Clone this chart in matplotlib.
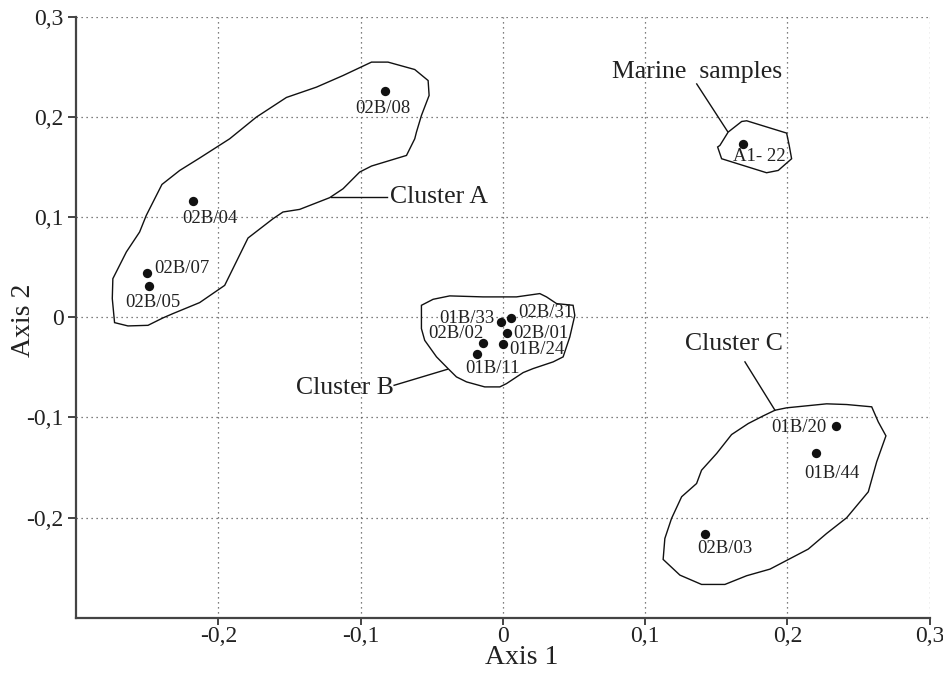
import numpy as np
from matplotlib import pyplot as plt
from matplotlib.ticker import FixedLocator, FuncFormatter

plt.rcParams['font.family'] = ['Liberation Serif', 'DejaVu Serif']

# sample scores on the first two axes
names = ['02B/08', '02B/04', '02B/07', '02B/05', 'A1- 22',
         '02B/31', '01B/33', '02B/01', '01B/24', '02B/02', '01B/11',
         '01B/20', '01B/44', '02B/03']
axis1 = [-0.083, -0.218, -0.250, -0.249, 0.169,
         0.006, -0.001, 0.003, 0.000, -0.014, -0.018,
         0.234, 0.220, 0.142]
axis2 = [0.226, 0.116, 0.044, 0.031, 0.173,
         -0.001, -0.005, -0.016, -0.027, -0.026, -0.037,
         -0.109, -0.136, -0.216]

# hand drawn envelopes round the groups
hull_a_x = [-0.2729, -0.2745, -0.2741, -0.2646, -0.2553, -0.2506, -0.2396, -0.2271, -0.2131,
            -0.1920, -0.1732, -0.1521, -0.1310, -0.1123, -0.0923, -0.0807, -0.0619, -0.0525,
            -0.0518, -0.0572, -0.0607, -0.0619, -0.0677, -0.0923, -0.1006, -0.1123, -0.1217,
            -0.1428, -0.1545, -0.1615, -0.1791, -0.1955, -0.2131, -0.2319, -0.2389, -0.2494,
            -0.2635]
hull_a_y = [-0.0053, 0.0187, 0.0386, 0.0653, 0.0852, 0.1018, 0.1327, 0.1467, 0.1591,
            0.1783, 0.2000, 0.2196, 0.2299, 0.2415, 0.2549, 0.2549, 0.2475, 0.2365,
            0.2216, 0.2016, 0.1850, 0.1783, 0.1617, 0.1511, 0.1451, 0.1284, 0.1195,
            0.1078, 0.1052, 0.0985, 0.0792, 0.0319, 0.0147, 0.0037, -0.0006, -0.0080,
            -0.0086]
hull_b_x = [-0.0572, -0.0490, -0.0373, -0.0139, 0.0096, 0.0260, 0.0307, 0.0378, 0.0494,
            0.0506, 0.0471, 0.0424, 0.0354, 0.0213, 0.0143, 0.0026, -0.0021, -0.0127,
            -0.0255, -0.0326, -0.0385, -0.0466, -0.0549, -0.0572]
hull_b_y = [0.0120, 0.0180, 0.0214, 0.0204, 0.0204, 0.0237, 0.0204, 0.0137, 0.0120,
            0.0020, -0.0196, -0.0395, -0.0445, -0.0512, -0.0552, -0.0662, -0.0695, -0.0695,
            -0.0645, -0.0595, -0.0512, -0.0395, -0.0230, -0.0113]
hull_c_x = [0.1913, 0.1995, 0.2276, 0.2417, 0.2593, 0.2639, 0.2693, 0.2628, 0.2569,
            0.2417, 0.2276, 0.2147, 0.1878, 0.1714, 0.1561, 0.1397, 0.1245, 0.1127,
            0.1139, 0.1186, 0.1257, 0.1362, 0.1397, 0.1503, 0.1608, 0.1725, 0.1831]
hull_c_y = [-0.0928, -0.0904, -0.0864, -0.0871, -0.0894, -0.1044, -0.1184, -0.1443, -0.1743,
            -0.2002, -0.2159, -0.2315, -0.2515, -0.2581, -0.2668, -0.2668, -0.2575, -0.2418,
            -0.2209, -0.2009, -0.1792, -0.1660, -0.1527, -0.1360, -0.1171, -0.1061, -0.0984]
hull_m_x = [0.1526, 0.1584, 0.1679, 0.1714, 0.1995, 0.2013, 0.2030, 0.1936, 0.1854,
            0.1538, 0.1510]
hull_m_y = [0.1717, 0.1850, 0.1956, 0.1963, 0.1840, 0.1717, 0.1584, 0.1467, 0.1444,
            0.1584, 0.1701]

groups = ['Cluster A', 'Cluster B', 'Cluster C', 'Marine  samples']

ticks = [-0.2, -0.1, 0, 0.1, 0.2, 0.3]

# label placement (pixel offsets from the dot, y downwards)
lab_off = [(-2, 17), (17, 17), (35, -5), (4, 16), (16, 12),
           (35, -6), (-35, -4), (34, 0), (34, 5), (-27, -10), (15, 14),
           (-37, 1), (16, 20), (20, 15)]
# group label position and leader line (x0, y0, x1, y1)
grp_pos = [(-0.0790, 0.1198, 'left'), (-0.1108, -0.0705, 'center'),
           (0.1624, -0.0262, 'center'), (0.1368, 0.2449, 'center')]
grp_lead = [(-0.1210, 0.1198, -0.0814, 0.1198), (-0.0764, -0.0679, -0.0389, -0.0519),
            (0.1702, -0.0445, 0.1913, -0.0928), (0.1363, 0.2331, 0.1580, 0.1856)]

fig = plt.figure(figsize=(9.43, 6.73), dpi=100)
ax = fig.add_axes([0.0806, 0.0822, 0.9052, 0.8926])
ax.set_xlim(-0.3, 0.3)
ax.set_ylim(-0.3, 0.3)

for hx, hy in [(hull_a_x, hull_a_y), (hull_b_x, hull_b_y), (hull_c_x, hull_c_y), (hull_m_x, hull_m_y)]:
    ax.fill(hx, hy, facecolor='none', edgecolor='#111111', linewidth=1.0, zorder=3)

ax.scatter(axis1, axis2, s=45, color='#111111', zorder=4, linewidths=0)
for n, x, y, (dx, dy) in zip(names, axis1, axis2, lab_off):
    ax.annotate(n, xy=(x, y), xytext=(dx * 0.72, -dy * 0.72), textcoords='offset points',
                ha='center', va='center', fontsize=13.5, color='#222222', zorder=5)

for g, (tx, ty, ha), (x0, y0, x1, y1) in zip(groups, grp_pos, grp_lead):
    ax.text(tx, ty, g, ha=ha, va='center', fontsize=18.5, color='#222222', zorder=5)
    ax.plot([x0, x1], [y0, y1], color='#111111', linewidth=1.0, zorder=3)

def fmt(v, pos):
    if abs(v) < 1e-9:
        return '0'
    return ('%.1f' % v).replace('.', ',')

ax.xaxis.set_major_locator(FixedLocator(ticks))
ax.yaxis.set_major_locator(FixedLocator(ticks))
ax.xaxis.set_major_formatter(FuncFormatter(fmt))
ax.yaxis.set_major_formatter(FuncFormatter(fmt))
ax.tick_params(labelsize=17, colors='#222222', width=1.4, direction='out')
ax.tick_params(axis='y', length=6, pad=3, color='#444444')
ax.tick_params(axis='x', length=5, pad=1, color='#444444')
ax.grid(True, linestyle=(0, (1, 3)), linewidth=0.9, color='#555555')
ax.set_axisbelow(True)

ax.spines['top'].set_visible(False)
ax.spines['right'].set_visible(False)
for s in ['left', 'bottom']:
    ax.spines[s].set_color('#444444')
    ax.spines[s].set_linewidth(1.6)

fig.text(522 / 943, 1 - 658 / 673, 'Axis 1', ha='center', va='center', fontsize=20, color='#222222')
fig.text(23 / 943, 1 - 320 / 673, 'Axis 2', ha='center', va='center', rotation=90, fontsize=20,
         color='#222222')

plt.savefig('out.png', dpi=100)
